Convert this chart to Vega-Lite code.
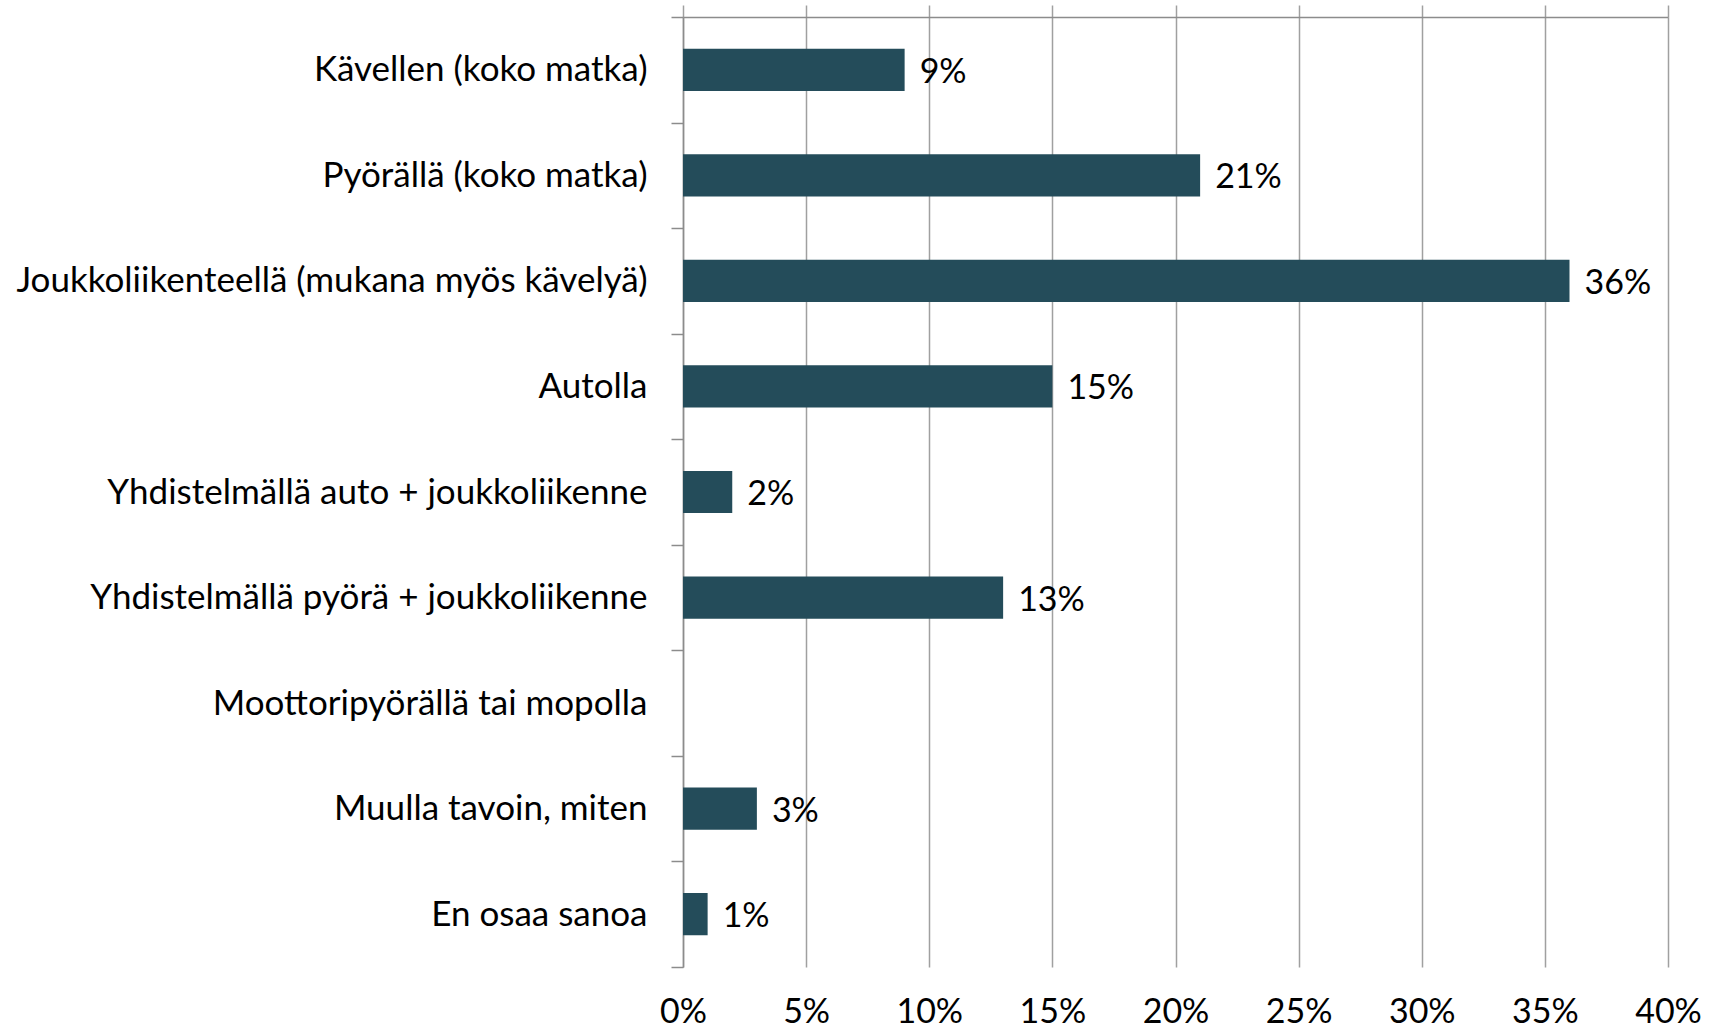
{
  "$schema": "https://vega.github.io/schema/vega-lite/v6.json",
  "width": 985,
  "height": 950,
  "autosize": {"type": "none"},
  "padding": {"left": 683, "top": 17, "right": 50, "bottom": 64},
  "background": "white",
  "config": {
    "view": {"stroke": null},
    "font": "Lato",
    "axis": {"labelFont": "Lato", "labelColor": "#000000"}
  },
  "data": {
    "values": [
      {"tapa": "Kävellen (koko matka)", "osuus": 9},
      {"tapa": "Pyörällä (koko matka)", "osuus": 21},
      {"tapa": "Joukkoliikenteellä (mukana myös kävelyä)", "osuus": 36},
      {"tapa": "Autolla", "osuus": 15},
      {"tapa": "Yhdistelmällä auto + joukkoliikenne", "osuus": 2},
      {"tapa": "Yhdistelmällä pyörä + joukkoliikenne", "osuus": 13},
      {"tapa": "Moottoripyörällä tai mopolla", "osuus": 0},
      {"tapa": "Muulla tavoin, miten", "osuus": 3},
      {"tapa": "En osaa sanoa", "osuus": 1}
    ]
  },
  "encoding": {
    "y": {
      "field": "tapa",
      "type": "nominal",
      "sort": null,
      "title": null,
      "scale": {"paddingInner": 0, "paddingOuter": 0},
      "axis": {
        "orient": "left",
        "domainColor": "#8c8c8c",
        "domainWidth": 1.5,
        "tickColor": "#8c8c8c",
        "tickWidth": 1.5,
        "tickSize": 12,
        "tickBand": "extent",
        "labelFontSize": 35,
        "labelPadding": 24,
        "labelLimit": 700
      }
    }
  },
  "layer": [
    {
      "mark": {"type": "bar", "color": "#244C5A", "height": {"band": 0.4}},
      "encoding": {
        "x": {
          "field": "osuus",
          "type": "quantitative",
          "title": null,
          "scale": {"domain": [0, 40], "nice": false},
          "axis": {
            "orient": "top",
            "values": [0, 5, 10, 15, 20, 25, 30, 35, 40],
            "labels": false,
            "domain": true,
            "domainColor": "#8c8c8c",
            "domainWidth": 1.5,
            "ticks": true,
            "tickSize": 12,
            "tickColor": "#a0a0a0",
            "tickWidth": 1.5,
            "grid": true,
            "gridColor": "#a0a0a0",
            "gridWidth": 1.5
          }
        }
      }
    },
    {
      "transform": [
        {"filter": "datum.osuus > 0"},
        {"calculate": "datum.osuus + '%'", "as": "nimike"}
      ],
      "mark": {"type": "text", "align": "left", "baseline": "middle", "dx": 15, "dy": 3, "fontSize": 34, "font": "Lato", "color": "#000000"},
      "encoding": {
        "text": {"field": "nimike", "type": "nominal"},
        "x": {
          "field": "osuus",
          "type": "quantitative",
          "title": null,
          "scale": {"domain": [0, 40], "nice": false},
          "axis": {
            "orient": "bottom",
            "values": [0, 5, 10, 15, 20, 25, 30, 35, 40],
            "labelExpr": "datum.value + '%'",
            "labelFontSize": 34,
            "labelPadding": 28,
            "labelFlush": false,
            "domain": false,
            "ticks": false,
            "grid": false
          }
        }
      }
    }
  ],
  "resolve": {"axis": {"x": "independent"}}
}
